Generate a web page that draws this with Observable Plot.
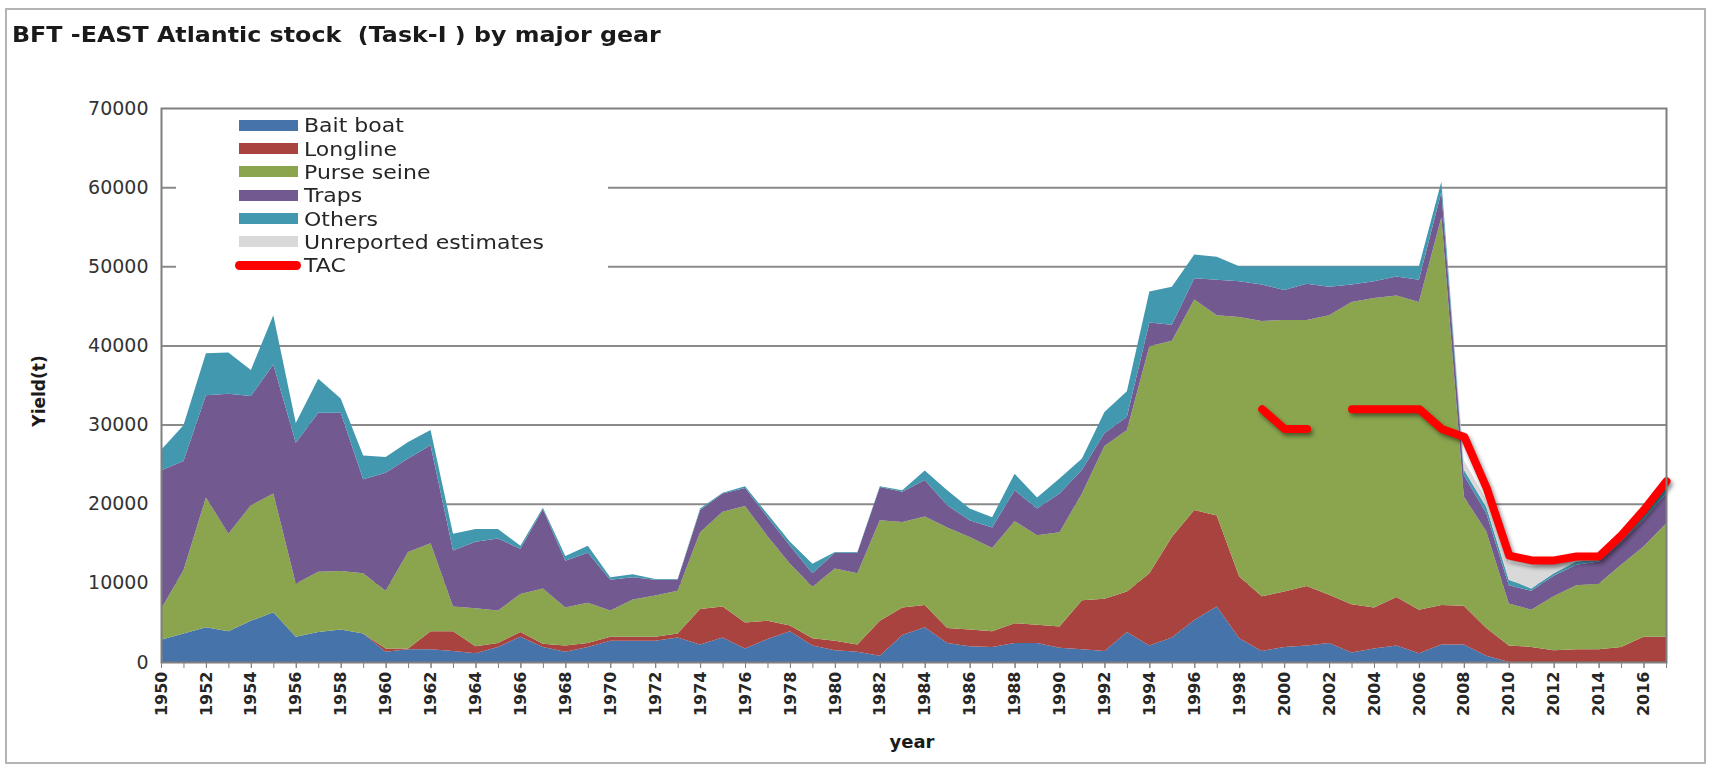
<!DOCTYPE html>
<html>
<head>
<meta charset="utf-8">
<script src="https://cdn.jsdelivr.net/npm/d3@7"></script>
<script src="https://cdn.jsdelivr.net/npm/@observablehq/plot@0.6"></script>
<style>
  body { margin: 0; background: #fff; }
  #wrap { position: relative; width: 1719px; height: 767px; overflow: hidden; font-family: "DejaVu Sans", sans-serif; background: #fff; }
  #frame { position: absolute; left: 5px; top: 8px; width: 1697px; height: 752px; border: 2px solid #b4b4b4; pointer-events: none; }
  #title { position: absolute; left: 12px; top: 24px; font-weight: bold; font-size: 22px; line-height: 22px; color: #1a1a1a; white-space: pre; transform: scaleX(1.08); transform-origin: left center; }
  #plot { position: absolute; left: 0; top: 0; }
  #legend { position: absolute; left: 176px; top: 111px; width: 432px; height: 171px; background: #fff; }
  .sw { position: absolute; left: 63px; width: 59px; height: 11px; }
  .swl { position: absolute; left: 59px; width: 66px; height: 9px; border-radius: 5px; background: #ff0000; }
  .lt { position: absolute; left: 128px; font-size: 20px; line-height: 22px; color: #262626; white-space: pre; transform: scaleX(1.1); transform-origin: left center; }
  #ylab { position: absolute; left: 39px; top: 391px; font-weight: bold; font-size: 17px; line-height: 17px; color: #1a1a1a; transform: translate(-50%, -50%) rotate(-90deg); white-space: pre; }
  #xlab { position: absolute; left: 912px; top: 742px; font-weight: bold; font-size: 18px; line-height: 18px; color: #1a1a1a; transform: translate(-50%, -50%); }
  .tac { filter: drop-shadow(2px 3px 2px rgba(0,0,0,0.45)); }
</style>
</head>
<body>
<div id="wrap">
  <div id="plot"></div>
  <div id="legend"></div>
  <div id="title">BFT -EAST Atlantic stock  (Task-I ) by major gear</div>
  <div id="ylab">Yield(t)</div>
  <div id="xlab">year</div>
  <div id="frame"></div>
</div>
<script>
const years = [1950,1951,1952,1953,1954,1955,1956,1957,1958,1959,
  1960,1961,1962,1963,1964,1965,1966,1967,1968,1969,
  1970,1971,1972,1973,1974,1975,1976,1977,1978,1979,
  1980,1981,1982,1983,1984,1985,1986,1987,1988,1989,
  1990,1991,1992,1993,1994,1995,1996,1997,1998,1999,
  2000,2001,2002,2003,2004,2005,2006,2007,2008,2009,
  2010,2011,2012,2013,2014,2015,2016,2017];

const labelYears = [1950,1952,1954,1956,1958,1960,1962,1964,1966,1968,1970,1972,1974,1976,1978,1980,1982,1984,1986,1988,1990,1992,1994,1996,1998,2000,2002,2004,2006,2008,2010,2012,2014,2016];
const yTicks = [0,10000,20000,30000,40000,50000,60000,70000];
const gridTicks = [10000,20000,30000,40000,50000,60000];

const gears = ["Bait boat","Longline","Purse seine","Traps","Others","Unreported estimates"];
const gearColors = ["#4673a9","#a8433f","#8ba54e","#72598f","#4298ae","#d9d9d9"];

const baitBoat = [2800,3600,4400,3900,5200,6300,3200,3800,4100,3600,
  1300,1600,1600,1400,1100,1900,3200,1900,1300,1900,
  2700,2700,2700,3100,2200,3100,1700,2900,3900,2100,
  1500,1300,800,3400,4400,2400,2000,1900,2400,2400,
  1800,1600,1400,3800,2100,3100,5300,7000,3000,1400,
  1900,2100,2400,1200,1700,2100,1100,2200,2200,800,
  0,0,0,0,0,0,0,0];

const longline = [0,0,0,0,0,0,0,0,0,0,
  400,100,2300,2500,900,500,600,400,800,500,
  500,500,500,500,4500,3900,3300,2300,700,900,
  1200,900,4400,3500,2800,1900,2100,2000,2500,2300,
  2700,6200,6600,5100,9100,12700,13900,11500,7800,6900,
  7000,7500,6100,6100,5200,6100,5500,5000,4900,3500,
  2100,1900,1500,1600,1600,1900,3200,3200];

const purseSeine = [3900,8000,16400,12300,14600,15000,6700,7600,7400,7600,
  7300,12200,11100,3100,4800,4100,4800,7000,4800,5100,
  3300,4700,5200,5400,9700,12000,14700,10700,7800,6500,
  9100,9000,12700,10800,11200,12700,11700,10500,12900,11300,
  11900,13500,19300,20400,28700,24800,26600,25300,32800,34800,
  34300,33600,35300,38200,39100,38100,38900,49000,13800,12200,
  5300,4700,6800,8100,8300,10400,11400,14300];

const traps = [17500,13800,12900,17700,13800,16300,17800,20100,20000,11900,
  14900,11800,12400,7100,8400,9100,5700,10000,5900,6300,
  3900,2800,2000,1400,2800,2300,2300,2400,2300,1700,
  2000,2600,4200,3800,4600,2800,2100,2600,3900,3400,
  4900,3000,1600,1700,3000,2000,2700,4500,4500,4600,
  3800,4600,3600,2200,2100,2400,2800,3200,2700,2300,
  2300,2400,2600,2600,2800,2900,3400,3800];

const others = [2600,4500,5300,5200,3300,6200,2500,4300,1800,3000,
  2000,2100,1900,2100,1600,1200,400,200,600,900,
  300,400,100,100,200,100,200,400,500,1200,
  100,100,100,200,1200,1900,1500,1300,2100,1400,
  1900,1400,2700,3200,3900,4800,3000,2900,1900,2300,
  3000,2200,2600,2300,1900,1300,1700,1300,700,800,
  700,300,300,400,200,600,800,700];

const unreported = [0,0,0,0,0,0,0,0,0,0,
  0,0,0,0,0,0,0,0,0,0,
  0,0,0,0,0,0,0,0,0,0,
  0,0,0,0,0,0,0,0,0,0,
  0,0,0,0,0,0,0,0,0,0,
  0,0,0,0,0,0,0,0,1200,900,
  2200,2800,1400,300,200,300,300,200];

const tacYears = [1999,2000,2001,2002,2003,2004,2005,2006,2007,2008,2009,2010,2011,2012,2013,2014,2015,2016,2017];
const tacValues = [32000,29500,29500,null,32000,32000,32000,32000,29500,28500,22000,13500,12900,12900,13400,13400,16100,19300,22900];

const seriesList = [baitBoat, longline, purseSeine, traps, others, unreported];

const rows = [];
gears.forEach((g, gi) => {
  years.forEach((yr, i) => rows.push({year: yr, gear: g, value: seriesList[gi][i]}));
});
const tacRows = tacYears.map((yr, i) => ({year: yr, tac: tacValues[i]}));

const chart = Plot.plot({
  width: 1719,
  height: 767,
  marginTop: 108,
  marginBottom: 105,
  marginLeft: 161,
  marginRight: 53,
  style: {fontFamily: "DejaVu Sans, sans-serif", background: "transparent", overflow: "visible"},
  x: {domain: [1950, 2017]},
  y: {domain: [0, 70000]},
  color: {domain: gears, range: gearColors},
  marks: [
    Plot.gridY(gridTicks, {stroke: "#8a8a8a", strokeOpacity: 1, strokeWidth: 2}),
    Plot.areaY(rows, {x: "year", y: "value", z: "gear", fill: "gear"}),
    Plot.lineY(tacRows, {x: "year", y: "tac", stroke: "#ff0000", strokeWidth: 8, strokeLinecap: "round", strokeLinejoin: "round", className: "tac"}),
    Plot.frame({stroke: "#7f7f7f", strokeWidth: 2}),
    Plot.axisX({ticks: years, tickSize: 6, tickFormat: () => "", label: null, stroke: "#7f7f7f"}),
    Plot.axisX({ticks: labelYears, tickSize: 6, tickPadding: 3, tickRotate: -90, tickFormat: d => String(d), label: null, fontSize: 16, fontWeight: "bold", fill: "#262626", stroke: "#7f7f7f"}),
    Plot.axisY({ticks: yTicks, tickSize: 0, tickPadding: 13, tickFormat: d => String(d), label: null, fontSize: 19, fill: "#333"})
  ]
});
document.getElementById("plot").appendChild(chart);

// legend built from the gear arrays
const legend = document.getElementById("legend");
const step = 23.3;
gears.forEach((g, i) => {
  const cy = 14.3 + i * step;
  const sw = document.createElement("div");
  sw.className = "sw";
  sw.style.top = (cy - 5.5) + "px";
  sw.style.background = gearColors[i];
  legend.appendChild(sw);
  const t = document.createElement("div");
  t.className = "lt";
  t.style.top = (cy - 11) + "px";
  t.textContent = g;
  legend.appendChild(t);
});
{
  const cy = 14.3 + gears.length * step;
  const sw = document.createElement("div");
  sw.className = "swl";
  sw.style.top = (cy - 4.5) + "px";
  legend.appendChild(sw);
  const t = document.createElement("div");
  t.className = "lt";
  t.style.top = (cy - 11) + "px";
  t.textContent = "TAC";
  legend.appendChild(t);
}
</script>
</body>
</html>
